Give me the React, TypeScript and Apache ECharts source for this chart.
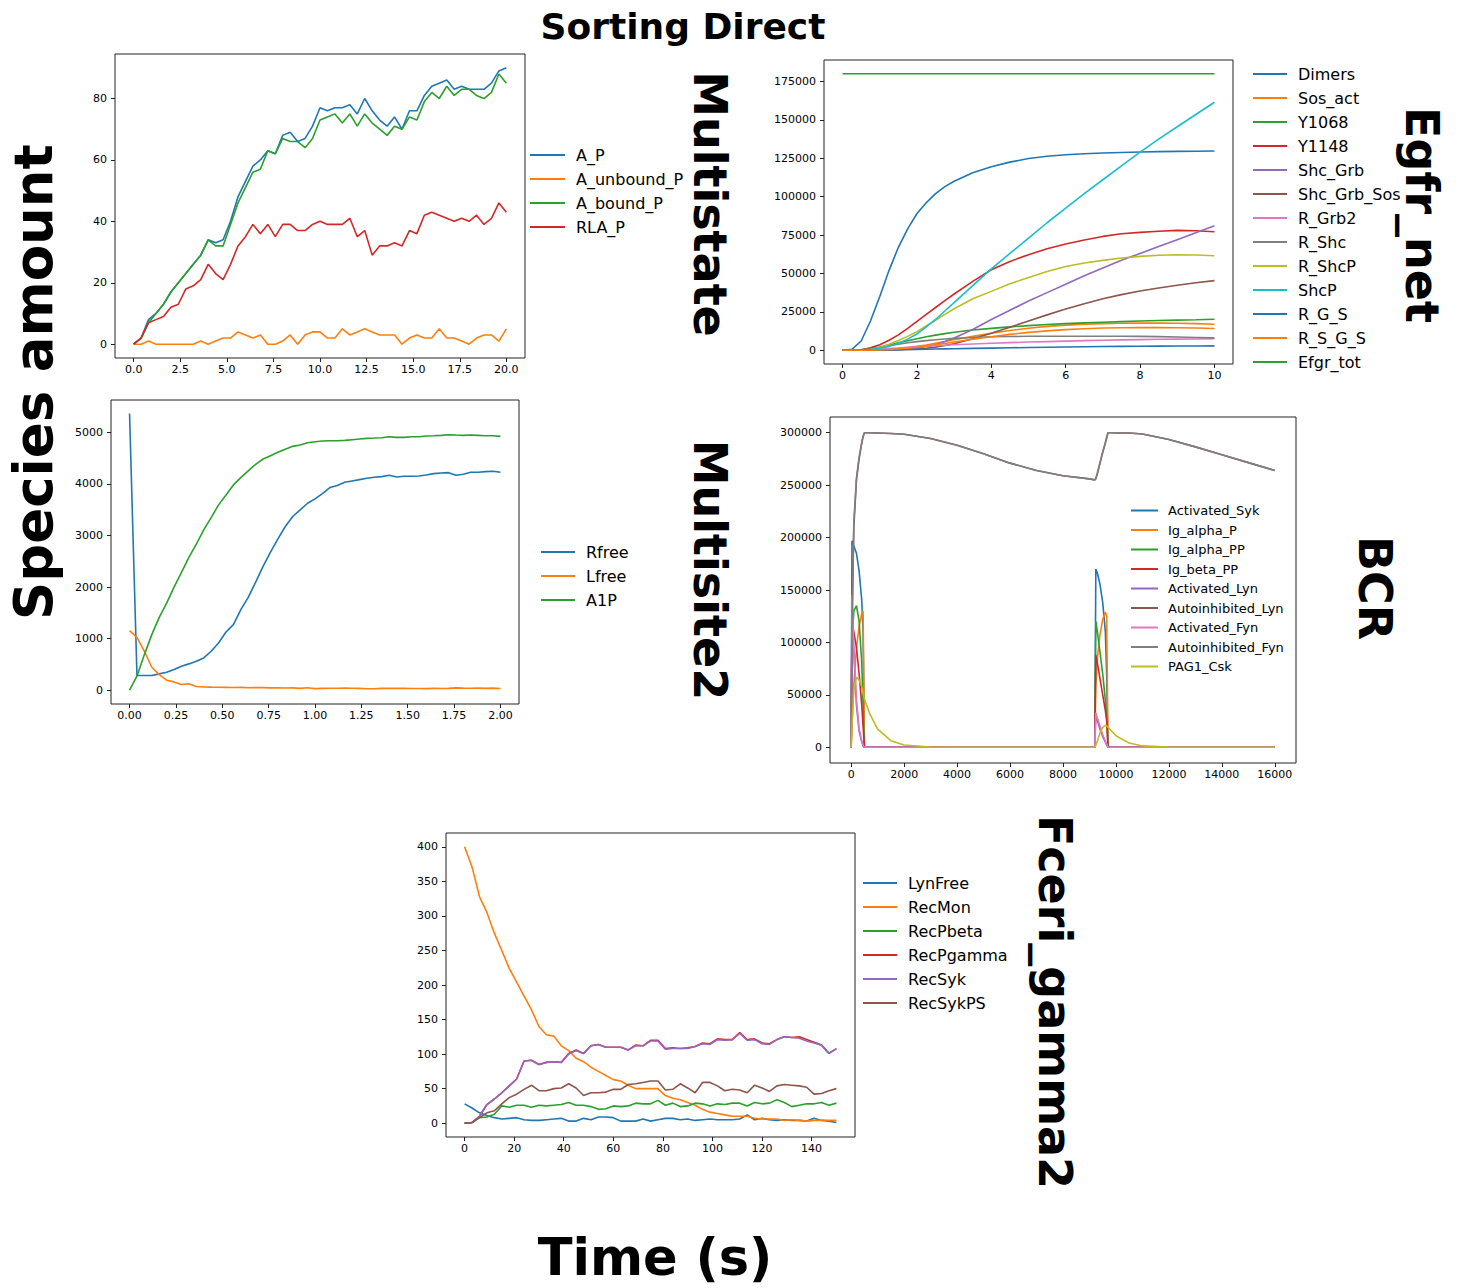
import React, { useEffect, useRef } from "react";
import * as echarts from "echarts";

const FONT = "DejaVu Sans";
const PAL = ["#1f77b4", "#ff7f0e", "#2ca02c", "#d62728", "#9467bd", "#8c564b", "#e377c2", "#7f7f7f", "#bcbd22", "#17becf"];

// ---------- Multistate ----------
const msTime = [0,0.4,0.8,1.2,1.6,2,2.4,2.8,3.2,3.6,4,4.4,4.8,5.2,5.6,6,6.4,6.8,7.2,7.6,8,8.4,8.8,9.2,9.6,10,10.4,10.8,11.2,11.6,12,12.4,12.8,13.2,13.6,14,14.4,14.8,15.2,15.6,16,16.4,16.8,17.2,17.6,18,18.4,18.8,19.2,19.6,20];
const msNames = ["A_P", "A_unbound_P", "A_bound_P", "RLA_P"];
const msA_P = [0,2,8,10,13,17,20,23,26,29,34,33,34,40,48,53,58,60,63,62,68,69,66,67,71,77,76,77,77,78,75,80,76,73,71,74,70,76,76,81,84,85,86,83,84,83,83,83,85,89,90];
const msA_unbound_P = [0,0,1,0,0,0,0,0,0,1,0,1,2,2,4,3,2,3,0,0,1,3,0,3,4,4,2,2,5,3,4,5,4,3,3,3,0,2,3,2,2,5,2,2,1,0,2,3,3,1,5];
const msA_bound_P = [0,2,7,10,13,17,20,23,26,29,34,32,32,39,46,51,56,57,63,62,67,66,66,64,67,73,74,75,72,75,71,75,72,70,68,71,70,74,73,79,82,80,84,81,83,83,81,80,82,88,85];
const msRLA_P = [0,2,7,8,9,12,13,18,19,21,26,23,21,26,32,35,39,36,39,35,39,39,37,37,39,40,39,39,39,41,35,37,29,32,32,33,32,37,36,42,43,42,41,40,41,40,42,39,41,46,43];
const msXTicks = [0,2.5,5,7.5,10,12.5,15,17.5,20];
const msYTicks = [0,20,40,60,80];

// ---------- Egfr_net ----------
const egTime = [0,0.25,0.5,0.75,1,1.25,1.5,1.75,2,2.25,2.5,2.75,3,3.5,4,4.5,5,5.5,6,6.5,7,7.5,8,8.5,9,9.5,10];
const egNames = ["Dimers","Sos_act","Y1068","Y1148","Shc_Grb","Shc_Grb_Sos","R_Grb2","R_Shc","R_ShcP","ShcP","R_G_S","R_S_G_S","Efgr_tot"];
const egDimers = [0,500,6000,19000,35000,52000,67000,79000,89000,96000,102000,106500,110000,115500,119500,122500,124800,126300,127300,127900,128400,128800,129100,129300,129500,129600,129700];
const egSos_act = [0,0,0,100,300,600,1100,1700,2500,3400,4500,5600,6800,9000,11000,12800,14300,15500,16300,16900,17300,17500,17600,17600,17500,17300,16900];
const egY1068 = [0,0,200,900,2000,3400,4800,6200,7500,8700,9800,10800,11700,13100,14200,15200,16000,16700,17300,17800,18200,18600,19000,19300,19600,19800,20100];
const egY1148 = [0,0,300,1500,3500,6500,10000,14200,18800,23300,27800,32300,36600,44800,52400,57800,62200,66000,69100,71800,74100,75800,76700,77500,78000,77800,77100];
const egShc_Grb = [0,0,0,0,100,300,600,1000,1500,2400,3500,5600,8000,13500,20000,26000,32000,37500,43000,48500,53500,58500,63000,67500,72000,76500,81000];
const egShc_Grb_Sos = [0,0,0,0,50,100,200,400,700,1300,2000,3000,4200,7500,11000,15000,19000,23000,26800,30300,33500,36200,38500,40500,42300,43900,45300];
const egR_Grb2 = [0,0,100,300,600,1000,1400,1800,2200,2550,2900,3200,3500,4000,4500,4900,5300,5600,5900,6200,6500,6700,6900,7100,7200,7300,7400];
const egR_Shc = [0,0,200,800,1800,2900,3900,4800,5600,6250,6800,7300,7700,8300,8700,8900,9050,9100,9100,9100,9100,9050,9000,8800,8600,8300,8000];
const egR_ShcP = [0,0,100,600,1800,3800,6300,9000,12000,15800,19500,23300,27000,33500,38300,43200,47400,51200,54500,56800,58500,60000,61100,61800,62200,62000,61500];
const egShcP = [0,0,100,400,1200,2500,4500,7200,10500,15200,20000,25500,31000,42000,53000,63000,73000,83000,92500,102000,111000,120000,129000,137500,145500,153500,161500];
const egR_G_S = [0,0,20,80,160,250,350,450,550,650,750,850,950,1150,1350,1550,1750,1900,2050,2200,2350,2450,2550,2650,2700,2750,2800];
const egR_S_G_S = [0,0,0,50,200,450,800,1300,1900,2700,3500,4400,5300,7100,8800,10300,11600,12600,13400,14000,14400,14600,14700,14700,14600,14400,14100];
const egEfgr_tot = [180000,180000,180000,180000,180000,180000,180000,180000,180000,180000,180000,180000,180000,180000,180000,180000,180000,180000,180000,180000,180000,180000,180000,180000,180000,180000,180000];
const egXTicks = [0,2,4,6,8,10];
const egYTicks = [0,25000,50000,75000,100000,125000,150000,175000];

// ---------- Multisite2 ----------
const m2Time = [0,0.04,0.08,0.12,0.16,0.2,0.24,0.28,0.32,0.36,0.4,0.44,0.48,0.52,0.56,0.6,0.64,0.68,0.72,0.76,0.8,0.84,0.88,0.92,0.96,1,1.04,1.08,1.12,1.16,1.2,1.24,1.28,1.32,1.36,1.4,1.44,1.48,1.52,1.56,1.6,1.64,1.68,1.72,1.76,1.8,1.84,1.88,1.92,1.96,2];
const m2Names = ["Rfree", "Lfree", "A1P"];
const m2Rfree = [5368,284,284,284,316,348,400,465,510,561,626,755,916,1129,1271,1561,1800,2097,2400,2677,2935,3174,3368,3497,3626,3710,3813,3929,3968,4032,4058,4084,4110,4129,4142,4168,4135,4148,4148,4155,4174,4200,4213,4219,4168,4187,4226,4226,4239,4245,4226];
const m2Lfree = [1155,1026,755,445,303,194,161,110,123,71,65,60,58,55,52,55,48,50,50,45,45,42,45,35,48,30,35,38,38,40,38,35,28,28,35,38,35,35,33,33,30,35,33,35,45,40,38,40,35,40,32];
const m2A1P = [0,271,690,1077,1413,1690,2000,2284,2574,2832,3110,3348,3594,3787,3981,4123,4252,4381,4484,4548,4613,4671,4729,4755,4800,4819,4832,4839,4839,4845,4858,4871,4884,4890,4897,4916,4903,4903,4916,4916,4929,4935,4942,4955,4948,4942,4948,4942,4935,4935,4923];
const m2XTicks = [0,0.25,0.5,0.75,1,1.25,1.5,1.75,2];
const m2YTicks = [0,1000,2000,3000,4000,5000];

// ---------- BCR ----------
const bcTime = [0,30,100,200,300,400,450,500,700,1000,1500,2000,3000,4000,5000,6000,7000,8000,9000,9200,9240,9300,9400,9500,9600,9650,9700,9800,10000,10500,11000,12000,13000,14000,15000,16000];
const bcNames = ["Activated_Syk","Ig_alpha_P","Ig_alpha_PP","Ig_beta_PP","Activated_Lyn","Autoinhibited_Lyn","Activated_Fyn","Autoinhibited_Fyn","PAG1_Csk"];
const bcActivated_Syk = [0,197000,192000,185000,168000,140000,110000,0,0,0,0,0,0,0,0,0,0,0,0,0,170000,166000,155000,138000,110000,70000,0,0,0,0,0,0,0,0,0,0];
const bcIg_alpha_P = [0,20000,60000,95000,115000,128000,130000,0,0,0,0,0,0,0,0,0,0,0,0,0,60000,85000,108000,122000,129000,125000,0,0,0,0,0,0,0,0,0,0];
const bcIg_alpha_PP = [0,100000,130000,135000,120000,80000,40000,0,0,0,0,0,0,0,0,0,0,0,0,0,120000,110000,90000,70000,45000,30000,0,0,0,0,0,0,0,0,0,0];
const bcIg_beta_PP = [0,120000,110000,95000,70000,40000,20000,0,0,0,0,0,0,0,0,0,0,0,0,0,88000,80000,65000,50000,35000,25000,0,0,0,0,0,0,0,0,0,0];
const bcActivated_Lyn = [0,140000,90000,40000,15000,5000,1000,0,0,0,0,0,0,0,0,0,0,0,0,0,30000,25000,17000,10000,5000,2000,0,0,0,0,0,0,0,0,0,0];
const bcAutoinhibited_Lyn = [0,110000,210000,255000,275000,290000,296000,300000,300000,299800,299200,298500,294500,288000,280000,271000,264000,259000,256000,255000,256000,261000,271000,281000,290000,295000,300000,300000,299900,299700,298800,293500,286500,279000,271500,264000];
const bcActivated_Fyn = [0,145000,95000,45000,18000,6000,2000,0,0,0,0,0,0,0,0,0,0,0,0,0,33000,28000,20000,12000,6000,3000,0,0,0,0,0,0,0,0,0,0];
const bcAutoinhibited_Fyn = [0,115000,215000,257000,277000,291000,297000,300000,300000,299800,299200,298500,294500,288000,280000,271000,264000,259000,256000,255000,256500,262000,272000,282000,291000,296000,300000,300000,299900,299700,298800,293500,286500,279000,271500,264000];
const bcPAG1_Csk = [0,20000,55000,67000,64000,58000,52000,46000,32000,17400,6300,2200,300,0,0,0,0,0,0,0,2000,6000,14000,19000,21000,20500,19000,16500,11000,4000,1300,150,0,0,0,0];
const bcXTicks = [0,2000,4000,6000,8000,10000,12000,14000,16000];
const bcYTicks = [0,50000,100000,150000,200000,250000,300000];

// ---------- Fceri_gamma2 ----------
const fcTime = [0,3,6,9,12,15,18,21,24,27,30,33,36,39,42,45,48,51,54,57,60,63,66,69,72,75,78,81,84,87,90,93,96,99,102,105,108,111,114,117,120,123,126,129,132,135,138,141,144,147,150];
const fcNames = ["LynFree","RecMon","RecPbeta","RecPgamma","RecSyk","RecSykPS"];
const fcLynFree = [28,22,15,11,8,6,7,8,5,4,4,5,6,7,3,3,7,5,9,9,8,3,3,3,6,3,5,7,7,5,6,4,5,6,5,5,5,6,12,5,7,5,4,5,4,4,3,7,4,3,1];
const fcRecMon = [400,371,328,305,275,250,224,204,184,164,140,128,126,112,105,94,89,81,75,69,63,61,55,50,50,50,50,40,36,34,30,26,20,16,14,12,10,10,10,7,6,6,6,4,5,4,3,4,4,4,4];
const fcRecPbeta = [0,1,8,9,13,25,23,26,26,23,26,25,26,27,30,26,26,24,20,21,25,24,25,29,28,28,33,26,29,24,25,29,28,25,28,27,29,29,25,30,28,29,34,30,24,26,28,28,30,26,29];
const fcRecPgamma = [0,1,10,27,35,44,54,64,90,91,85,88,89,88,101,106,101,112,114,110,110,110,106,113,112,120,120,108,109,108,109,111,116,115,122,121,121,131,121,122,116,115,121,125,124,125,121,117,113,101,108];
const fcRecSyk = [0,1,10,27,35,44,54,64,90,91,85,88,89,88,100,105,101,112,114,110,110,110,106,112,112,119,119,107,108,108,108,111,115,114,121,120,121,130,120,121,115,114,121,125,124,123,119,116,113,101,108];
const fcRecSykPS = [0,1,8,15,18,28,37,42,49,55,47,47,50,51,57,51,40,44,44,45,49,49,56,57,59,61,61,48,49,57,51,44,59,59,54,47,49,48,44,55,51,46,54,56,55,54,52,42,43,47,50];
const fcXTicks = [0,20,40,60,80,100,120,140];
const fcYTicks = [0,50,100,150,200,250,300,350,400];

function mkLine(name: string, xs: number[], ys: number[], color: string, gi: number) {
  return {
    type: "line",
    name,
    xAxisIndex: gi,
    yAxisIndex: gi,
    data: xs.map((x, i) => [x, ys[i]]),
    showSymbol: false,
    symbol: "none",
    lineStyle: { width: 1.6, color },
    itemStyle: { color },
    emphasis: { disabled: true },
    silent: true,
  };
}

function mkAxis(gi: number, min: number, max: number, ticks: number[], fmt: (v: number) => string, margin: number) {
  return {
    type: "value",
    gridIndex: gi,
    min,
    max,
    axisLine: { show: false, onZero: false },
    axisTick: { show: true, customValues: ticks, length: 4, lineStyle: { color: "#222", width: 1 } },
    axisLabel: { show: true, customValues: ticks, formatter: fmt, fontSize: 11, color: "#000", fontFamily: FONT, margin },
    splitLine: { show: false },
  };
}

function mkLegend(names: string[], left: number, top: number, fontSize: number, itemWidth: number, gap: number, pad: number) {
  return {
    data: names,
    orient: "vertical",
    left,
    top,
    padding: 0,
    icon: "rect",
    itemWidth,
    itemHeight: 2,
    itemGap: gap,
    selectedMode: false,
    textStyle: { fontSize, lineHeight: fontSize, fontFamily: FONT, color: "#000", padding: [0, 0, 0, pad] },
  };
}

function vText(text: string, x: number, y: number, size: number, rot: number) {
  return {
    type: "text",
    x,
    y,
    rotation: rot,
    style: {
      text,
      fontSize: size,
      fontWeight: "bold",
      fontFamily: FONT,
      fill: "#000",
      align: "center",
      verticalAlign: "middle",
      textAlign: "center",
      textVerticalAlign: "middle",
    },
  };
}

export default function App() {
  const ref = useRef<HTMLDivElement>(null);
  useEffect(() => {
    if (!ref.current) return;
    const chart = echarts.init(ref.current, null, { renderer: "svg" });
    const gridStyle = { show: true, borderColor: "#222", borderWidth: 1, backgroundColor: "transparent" };
    const f1 = (v: number) => v.toFixed(1);
    const f2 = (v: number) => v.toFixed(2);
    const f0 = (v: number) => String(Math.round(v));

    const series: any[] = [];
    series.push(mkLine("A_P", msTime, msA_P, PAL[0], 0));
    series.push(mkLine("A_unbound_P", msTime, msA_unbound_P, PAL[1], 0));
    series.push(mkLine("A_bound_P", msTime, msA_bound_P, PAL[2], 0));
    series.push(mkLine("RLA_P", msTime, msRLA_P, PAL[3], 0));

    const egData = [egDimers, egSos_act, egY1068, egY1148, egShc_Grb, egShc_Grb_Sos, egR_Grb2, egR_Shc, egR_ShcP, egShcP, egR_G_S, egR_S_G_S, egEfgr_tot];
    egNames.forEach((n, i) => series.push(mkLine(n, egTime, egData[i], PAL[i % 10], 1)));

    series.push(mkLine("Rfree", m2Time, m2Rfree, PAL[0], 2));
    series.push(mkLine("Lfree", m2Time, m2Lfree, PAL[1], 2));
    series.push(mkLine("A1P", m2Time, m2A1P, PAL[2], 2));

    const bcData = [bcActivated_Syk, bcIg_alpha_P, bcIg_alpha_PP, bcIg_beta_PP, bcActivated_Lyn, bcAutoinhibited_Lyn, bcActivated_Fyn, bcAutoinhibited_Fyn, bcPAG1_Csk];
    bcNames.forEach((n, i) => series.push(mkLine(n, bcTime, bcData[i], PAL[i % 10], 3)));

    const fcData = [fcLynFree, fcRecMon, fcRecPbeta, fcRecPgamma, fcRecSyk, fcRecSykPS];
    fcNames.forEach((n, i) => series.push(mkLine(n, fcTime, fcData[i], PAL[i % 10], 4)));

    const XM = 6;
    const YM = 8;
    chart.setOption({
      animation: false,
      backgroundColor: "#ffffff",
      textStyle: { fontFamily: FONT, color: "#000" },
      grid: [
        { left: 115, top: 54, width: 410, height: 304, ...gridStyle },
        { left: 824, top: 60, width: 409, height: 304, ...gridStyle },
        { left: 111, top: 400, width: 408, height: 304, ...gridStyle },
        { left: 830, top: 417, width: 466, height: 346, ...gridStyle },
        { left: 446, top: 833, width: 409, height: 304, ...gridStyle },
      ],
      xAxis: [
        mkAxis(0, -1, 21, msXTicks, f1, XM),
        mkAxis(1, -0.5, 10.5, egXTicks, f0, XM),
        mkAxis(2, -0.1, 2.1, m2XTicks, f2, XM),
        mkAxis(3, -800, 16800, bcXTicks, f0, XM),
        mkAxis(4, -7.5, 157.5, fcXTicks, f0, XM),
      ],
      yAxis: [
        mkAxis(0, -4.5, 94.5, msYTicks, f0, YM),
        mkAxis(1, -9000, 189000, egYTicks, f0, YM),
        mkAxis(2, -268, 5628, m2YTicks, f0, YM),
        mkAxis(3, -15000, 315000, bcYTicks, f0, YM),
        mkAxis(4, -20, 420, fcYTicks, f0, YM),
      ],
      legend: [
        mkLegend(msNames, 530, 147, 16, 35, 8, 6),
        mkLegend(egNames, 1253, 66, 16, 34, 8, 6),
        mkLegend(m2Names, 541, 544, 16, 34, 8, 6),
        mkLegend(bcNames, 1131, 504, 13, 27, 6.5, 5),
        mkLegend(fcNames, 863, 875, 16, 34, 8, 6),
      ],
      graphic: [
        vText("Sorting Direct", 683, 26, 36, 0),
        vText("Species amount", 33, 382, 53, Math.PI / 2),
        vText("Time (s)", 655, 1257, 51, 0),
        vText("Multistate", 710, 204, 46, -Math.PI / 2),
        vText("Multisite2", 710, 570, 46, -Math.PI / 2),
        vText("Egfr_net", 1422, 215, 46, -Math.PI / 2),
        vText("BCR", 1375, 588, 46, -Math.PI / 2),
        vText("Fceri_gamma2", 1055, 1002, 46, -Math.PI / 2),
      ],
      series,
    });
    return () => chart.dispose();
  }, []);
  return (
    <div
      ref={ref}
      style={{ position: "absolute", left: 0, top: 0, width: 1461, height: 1288, background: "#fff" }}
    />
  );
}
